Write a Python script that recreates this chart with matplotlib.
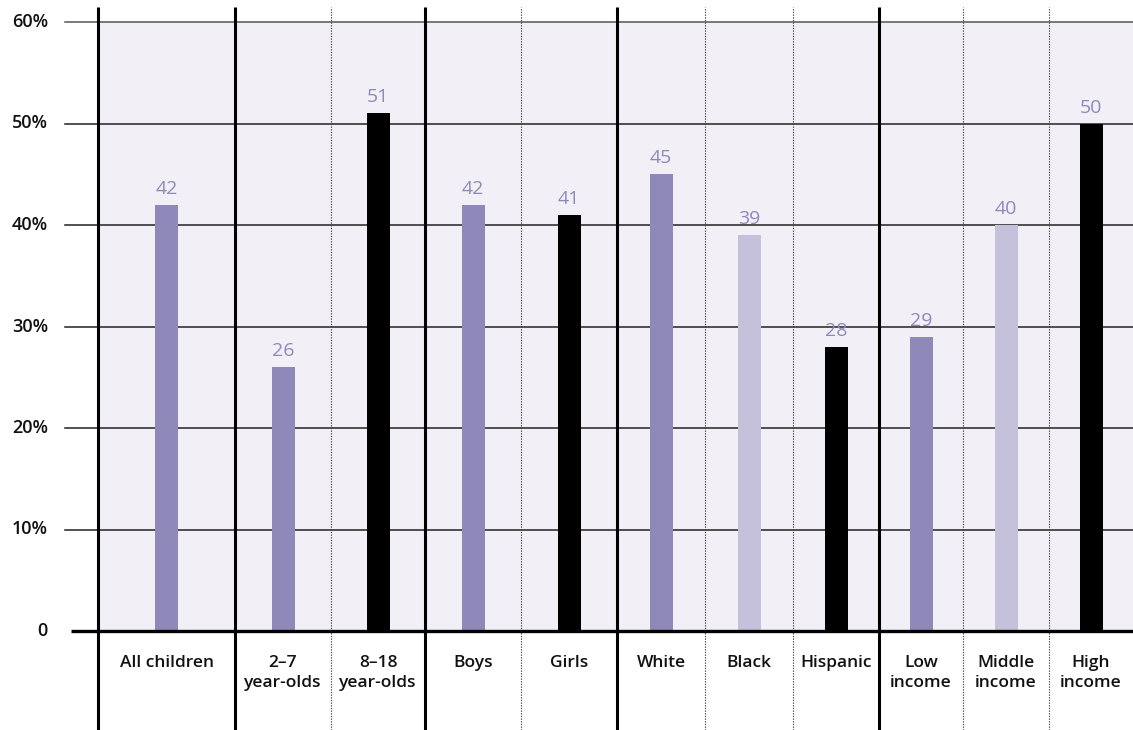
import matplotlib

matplotlib.use('Agg')
import matplotlib.pyplot as plt
import matplotlib.transforms as mtransforms

plt.rcParams['font.family'] = ['Open Sans', 'DejaVu Sans']

categories = ['All children', '2–7\nyear-olds', '8–18\nyear-olds', 'Boys', 'Girls',
              'White', 'Black', 'Hispanic', 'Low\nincome', 'Middle\nincome', 'High\nincome']
values = [42, 26, 51, 42, 41, 45, 39, 28, 29, 40, 50]
shades = ['mid', 'mid', 'dark', 'mid', 'dark', 'mid', 'light', 'dark', 'mid', 'light', 'dark']
y_ticks = [0, 10, 20, 30, 40, 50, 60]
y_tick_labels = ['0', '10%', '20%', '30%', '40%', '50%', '60%']

# column widths (pixels) and where each group begins
col_widths = [137, 96, 94, 96, 96, 88, 88, 86, 84, 86, 84]
group_starts = [0, 1, 3, 5, 8]

PURPLE = '#8e89b8'
LIGHT = '#c6c1db'
BG = '#f2f0f6'
palette = {'mid': PURPLE, 'light': LIGHT, 'dark': '#000000'}

W, H = 1133, 730
x0, x1 = 98, 1133
y_top, y_zero = 22, 631

fig = plt.figure(figsize=(W / 100, H / 100), dpi=100)
ax = fig.add_axes([x0 / W, (H - y_zero) / H, (x1 - x0) / W, (y_zero - y_top) / H])
ax.set_facecolor(BG)

edges = [0]
for w in col_widths:
    edges.append(edges[-1] + w)
centers = [(edges[i] + edges[i + 1]) / 2 for i in range(len(col_widths))]

ax.set_xlim(0, edges[-1])
ax.set_ylim(0, 60)
for s in ax.spines.values():
    s.set_visible(False)
ax.set_xticks([])
ax.set_yticks([])

axh = y_zero - y_top
xt = mtransforms.blended_transform_factory(ax.transData, ax.transAxes)
yt = mtransforms.blended_transform_factory(ax.transAxes, ax.transData)

# horizontal gridlines, extending a little to the left of the plot area
for t in y_ticks[1:]:
    ax.plot([(65 - x0) / (x1 - x0), 1], [t, t], transform=yt, color='#222222' if t < 60 else '#555555',
            lw=1.1, clip_on=False, zorder=1)
ax.plot([(71 - x0) / (x1 - x0), 1], [0, 0], transform=yt, color='black', lw=2.4,
        clip_on=False, zorder=4, solid_capstyle='butt')

# column separators
v_top = (y_zero - 7) / axh
v_bot = (y_zero - H) / axh
for i in range(len(col_widths)):
    xe = edges[i]
    if i in group_starts:
        ax.plot([xe, xe], [v_bot, v_top], transform=xt, color='black', lw=2.2,
                clip_on=False, zorder=5, solid_capstyle='butt')
    else:
        ax.plot([xe, xe], [v_bot, v_top], transform=xt, color='#444444', lw=0.8,
                ls=(0, (1.2, 1.2)), clip_on=False, zorder=2)

bars = ax.bar(centers, values, width=23, color=[palette[s] for s in shades], zorder=3)
for c, v in zip(centers, values):
    ax.annotate(str(v), (c, v), xytext=(0, 5), textcoords='offset points',
                ha='center', va='bottom', color=PURPLE, fontsize=14)

for t, lab in zip(y_ticks, y_tick_labels):
    ax.text((48 - x0) / (x1 - x0), t, lab, transform=yt, ha='right', va='center',
            fontsize=13, fontweight='semibold', color='#111111')

for c, lab in zip(centers, categories):
    ax.text(c, (y_zero - 655) / axh, lab, transform=xt, ha='center', va='top',
            fontsize=12.5, fontweight='semibold', color='#111111', linespacing=1.35)

fig.savefig('out.png', dpi=100)
